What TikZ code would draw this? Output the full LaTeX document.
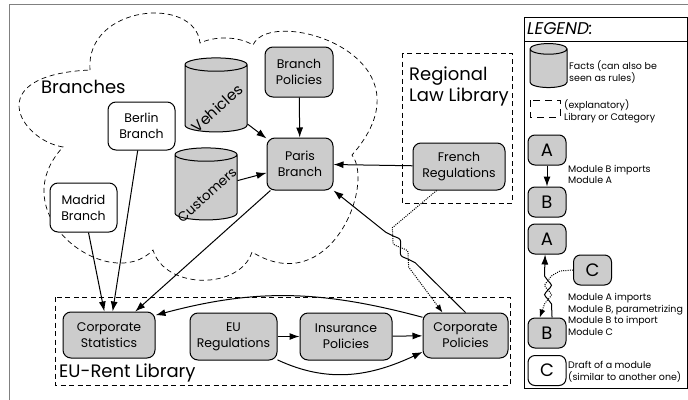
\documentclass[tikz,border=0pt]{standalone}
\usepackage{fontspec}
\setmainfont{Poppins}
\usetikzlibrary{shapes.geometric,arrows.meta}

\begin{document}
\begin{tikzpicture}[x=1pt,y=1pt]
    \tikzset{
      module/.style={draw, rectangle, fill=black!20, rounded corners=8pt, line width=1pt, align=center, inner sep=2pt, font=\fontsize{12.5}{16}\selectfont},
      draft/.style={module, fill=white},
      letter/.style={module, minimum width=38pt, minimum height=30pt, rounded corners=7pt, font=\fontsize{18}{20}\selectfont},
      facts/.style={draw, cylinder, shape border rotate=90, shape aspect=2, fill=black!20, line width=1pt},
      lib/.style={draw, dash pattern=on 5pt off 3.5pt, line width=0.7pt},
      line/.style={draw, line width=1pt, -{Latex[length=10pt,width=7pt]}},
      hint/.style={draw, dash pattern=on 1pt off 1.2pt, line width=1pt, -{Latex[length=8pt,width=6pt]}},
      title/.style={anchor=west, align=left, inner sep=0pt, font=\fontsize{18}{21}\selectfont},
      small/.style={anchor=west, align=left, inner sep=0pt, font=\fontsize{9.5}{11.8}\selectfont}
    }
    \useasboundingbox (0,0) rectangle (688,-399);
    \draw [gray, line width=1.5pt] (9.5,-4.5) rectangle (720,-430);

    % the cloud of branches
    \draw [lib] (90,-70) .. controls (85,-5) and (195,5) .. (200,-43)
      .. controls (215,-36) and (238,-36) .. (253,-45)
      .. controls (270,-5) and (440,-55) .. (352,-155)
      .. controls (375,-185) and (330,-300) .. (252,-252)
      .. controls (240,-290) and (165,-290) .. (153,-250)
      .. controls (110,-295) and (0,-215) .. (63,-147)
      .. controls (20,-140) and (-20,-75) .. cycle;
    \node [title] (branches) at (41,-86.5) {Branches};

    % libraries
    \draw [lib] (402,-53) rectangle (512,-203);
    \node [title] (regional) at (409,-86.5) {Regional\\Law Library};
    \draw [lib] (55,-297) rectangle (510,-385);
    \node [title] (eurent) at (59,-373) {EU-Rent Library};

    % modules
    \node [module, minimum width=68pt, minimum height=50pt] (bpol) at (299,-72) {Branch\\Policies};
    \node [module, minimum width=66pt, minimum height=52pt] (paris) at (300,-164) {Paris\\Branch};
    \node [draft, minimum width=67pt, minimum height=48pt] (berlin) at (141.5,-126) {Berlin\\Branch};
    \node [draft, minimum width=67pt, minimum height=49pt] (madrid) at (83.5,-207.5) {Madrid\\Branch};
    \node [module, minimum width=92pt, minimum height=47pt] (french) at (459,-166.5) {French\\Regulations};
    \node [module, minimum width=92pt, minimum height=46pt] (cstat) at (109,-335) {Corporate\\Statistics};
    \node [module, minimum width=87pt, minimum height=47pt] (eureg) at (233.5,-336.5) {EU\\Regulations};
    \node [module, minimum width=92pt, minimum height=47pt] (ins) at (346,-336.5) {Insurance\\Policies};
    \node [module, minimum width=85pt, minimum height=45pt] (cpol) at (465.5,-335.5) {Corporate\\Policies};

    % facts
    \node [facts, minimum width=62pt, minimum height=74pt] (veh) at (216,-100) {};
    \node [rotate=42, font=\fontsize{15}{17}\selectfont] (vehtxt) at (217,-108) {Vehicles};
    \node [facts, minimum width=62pt, minimum height=72pt] (cust) at (206,-189) {};
    \node [rotate=42, font=\fontsize{13.5}{16}\selectfont] (custtxt) at (207,-195) {Customers};

    % imports
    \path [line] (bpol) -- (paris);
    \path [line] (veh) -- (paris);
    \path [line] (cust) -- (paris);
    \path [line] (french) -- (paris);
    \path [line] (paris) -- (cstat);
    \path [line] (berlin) -- (cstat);
    \path [line] (madrid) -- (cstat);
    \path [line] (eureg) -- (ins);
    \path [line] (ins) -- (cpol);
    \path [line] (cpol.157) to[out=165, in=15] (cstat.23);
    \path [line] (eureg.-28) to[out=-25, in=205] (cpol.201);

    % parametrized import
    \coordinate (x1) at (392.8,-235.8);
    \coordinate (x2) at (400.5,-247.5);
    \coordinate (x3) at (408.2,-259.2);
    \path [line] (cpol.north) -- plot[smooth] coordinates {(415.3,-262.8) (x3) (401,-255.5) (x2) (400,-239.5) (x1) (385.7,-232.2)} -- (paris.south east);
    \path [hint] (french.-133) -- plot[smooth] coordinates {(392.3,-227.8) (x1) (393.4,-243.9) (x2) (407.6,-251.1) (x3) (408.7,-267.2)} -- (cpol.135);

    % legend
    \draw [line width=1pt] (524,-17) rectangle (687,-388);
    \draw [line width=1pt] (524,-41) -- (687,-41);
    \node [anchor=west, inner sep=0pt, font=\itshape\fontsize{17}{20}\selectfont] (legend) at (527,-29) {LEGEND:};

    \node [facts, minimum width=37pt, minimum height=44pt, shape aspect=1.6] (lfacts) at (548.5,-70) {};
    \node [small] (lfactstxt) at (569,-72) {Facts (can also be\\seen as rules)};
    \draw [lib, dash pattern=on 7pt off 5pt] (530,-100) rectangle (560,-117);
    \node [small] (llibtxt) at (564,-111) {(explanatory)\\Library or Category};

    \node [letter] (la) at (547,-150) {A};
    \node [letter] (lb) at (547,-202) {B};
    \path [line] (la) -- (lb);
    \node [small] (limptxt) at (568,-174.5) {Module B imports\\Module A};

    \node [letter] (la2) at (547,-239) {A};
    \node [letter] (lc) at (592.5,-270) {C};
    \node [letter] (lb2) at (547,-333) {B};
    \coordinate (y1) at (548,-280.7);
    \coordinate (y2) at (548,-290);
    \coordinate (y3) at (548,-299.3);
    \path [line] (lb2.72) -- plot[smooth] coordinates {(551.5,-304) (y3) (544.5,-294.7) (y2) (551.5,-285.3) (y1) (544.5,-276)} -- (la2.-97);
    \path [hint] (lc.west) -- plot[smooth] coordinates {(560,-271) (551.5,-276) (y1) (544.5,-285.3) (y2) (551.5,-294.7) (y3) (544.5,-304)} -- (lb2.115);
    \node [small] (lpartxt) at (568,-314.5) {Module A imports\\Module B, parametrizing\\Module B to import\\Module C};

    \node [letter, fill=white] (ldraft) at (547,-370.5) {C};
    \node [small] (ldrafttxt) at (568,-371.5) {Draft of a module\\(similar to another one)};
\end{tikzpicture}
\end{document}
